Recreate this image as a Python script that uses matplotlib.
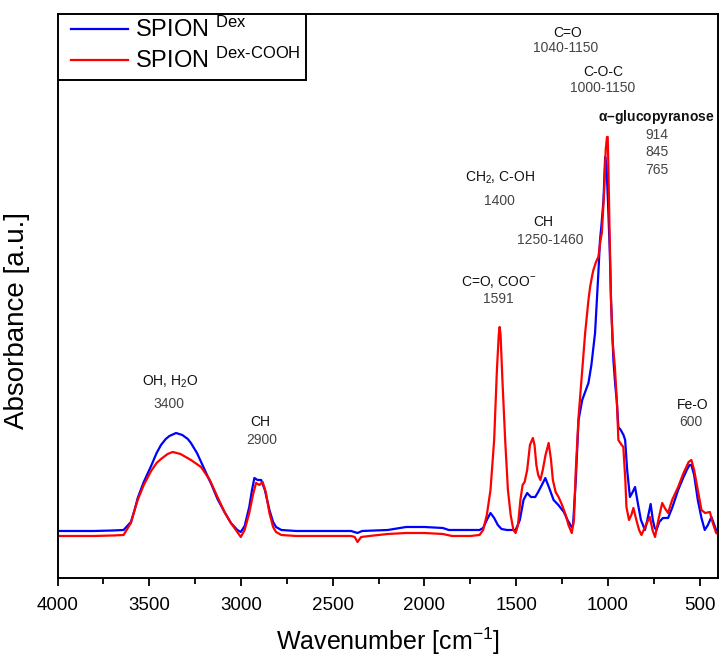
import numpy as np
import matplotlib
matplotlib.use("Agg")
import matplotlib.pyplot as plt
from matplotlib.ticker import MultipleLocator
from matplotlib.patches import Rectangle

plt.rcParams['font.family'] = ['Liberation Sans', 'DejaVu Sans']
plt.rcParams['mathtext.fontset'] = 'custom'
plt.rcParams['mathtext.rm'] = 'Liberation Sans'
plt.rcParams['mathtext.it'] = 'Liberation Sans:italic'
plt.rcParams['mathtext.bf'] = 'Liberation Sans:bold'

# SPION Dex  (wavenumber, absorbance a.u.)
dex_wn = [4000, 3800, 3700, 3640, 3600, 3580, 3563, 3530, 3490, 3460, 3436, 3410, 3390, 3354,
          3320, 3290, 3273, 3240, 3200, 3160, 3128, 3090, 3055, 3020, 3001, 2980, 2955, 2940,
          2927, 2910, 2890, 2870, 2845, 2825, 2809, 2780, 2700, 2600, 2500, 2400, 2365, 2340,
          2200, 2100, 2000, 1900, 1867, 1750, 1700, 1680, 1660, 1640, 1620, 1600, 1580, 1550,
          1520, 1503, 1480, 1460, 1440, 1420, 1396, 1380, 1360, 1341, 1320, 1296, 1270, 1240,
          1220, 1198, 1190, 1175, 1160, 1140, 1120, 1106, 1090, 1070, 1052, 1043, 1035, 1024,
          1015, 1008, 1000, 990, 983, 970, 960, 952, 943, 930, 915, 906, 895, 880, 865, 852,
          837, 820, 798, 785, 767, 755, 745, 735, 720, 700, 672, 650, 617, 590, 570, 555, 545,
          530, 510, 490, 472, 455, 436, 420, 410, 400]
dex_abs = [0.47, 0.47, 0.475, 0.48, 0.56, 0.68, 0.80, 0.96, 1.12, 1.25, 1.33, 1.39, 1.42, 1.45,
           1.43, 1.39, 1.35, 1.25, 1.09, 0.93, 0.79, 0.66, 0.55, 0.48, 0.46, 0.52, 0.71, 0.88,
           1.00, 0.98, 0.98, 0.88, 0.68, 0.56, 0.51, 0.48, 0.47, 0.47, 0.47, 0.47, 0.45, 0.47,
           0.48, 0.51, 0.51, 0.50, 0.48, 0.48, 0.48, 0.50, 0.58, 0.65, 0.60, 0.53, 0.49, 0.48,
           0.48, 0.48, 0.58, 0.78, 0.85, 0.81, 0.81, 0.86, 0.93, 1.00, 0.90, 0.78, 0.73, 0.66,
           0.58, 0.51, 0.53, 0.98, 1.58, 1.78, 1.88, 1.95, 2.13, 2.45, 3.05, 3.38, 3.53, 3.78,
           4.21, 4.13, 3.78, 3.28, 2.78, 2.18, 1.93, 1.78, 1.51, 1.48, 1.43, 1.38, 1.08, 0.81,
           0.86, 0.91, 0.75, 0.58, 0.48, 0.58, 0.74, 0.58, 0.50, 0.48, 0.56, 0.60, 0.60, 0.70,
           0.88, 1.00, 1.08, 1.13, 1.13, 1.03, 0.78, 0.60, 0.48, 0.53, 0.61, 0.53, 0.48, 0.46]

# SPION Dex-COOH
cooh_wn = [4000, 3800, 3700, 3640, 3600, 3580, 3563, 3530, 3490, 3460, 3436, 3400, 3372, 3330,
           3273, 3218, 3170, 3128, 3090, 3055, 3020, 3001, 2980, 2955, 2935, 2918, 2900, 2882,
           2865, 2845, 2825, 2809, 2780, 2700, 2500, 2400, 2380, 2365, 2345, 2300, 2200, 2100,
           2000, 1900, 1850, 1750, 1700, 1680, 1660, 1640, 1620, 1605, 1595, 1590, 1585, 1575,
           1560, 1545, 1530, 1515, 1503, 1490, 1477, 1465, 1454, 1440, 1425, 1409, 1400, 1390,
           1380, 1368, 1355, 1340, 1323, 1310, 1300, 1285, 1269, 1250, 1230, 1215, 1197, 1185,
           1175, 1160, 1140, 1124, 1106, 1097, 1085, 1079, 1065, 1052, 1040, 1033, 1020, 1012,
           1005, 1001, 997, 992, 983, 975, 962, 950, 943, 925, 916, 905, 899, 885, 872, 861,
           845, 830, 817, 800, 785, 771, 757, 743, 725, 704, 690, 672, 650, 617, 590, 560, 545,
           530, 510, 490, 470, 444, 430, 410, 400]
cooh_abs = [0.42, 0.42, 0.425, 0.43, 0.55, 0.68, 0.78, 0.93, 1.07, 1.15, 1.19, 1.24, 1.26, 1.24,
            1.18, 1.11, 0.98, 0.81, 0.66, 0.55, 0.46, 0.41, 0.48, 0.65, 0.83, 0.95, 0.93, 0.96,
            0.86, 0.65, 0.51, 0.46, 0.43, 0.42, 0.42, 0.42, 0.41, 0.36, 0.41, 0.42, 0.44, 0.45,
            0.45, 0.44, 0.42, 0.42, 0.43, 0.48, 0.63, 0.88, 1.38, 2.08, 2.43, 2.51, 2.43, 1.98,
            1.38, 0.88, 0.63, 0.48, 0.45, 0.53, 0.78, 0.93, 0.96, 1.08, 1.33, 1.40, 1.33, 1.13,
            1.03, 0.98, 1.08, 1.23, 1.35, 1.18, 0.98, 0.86, 0.81, 0.73, 0.63, 0.53, 0.45, 0.58,
            1.08, 1.61, 2.08, 2.45, 2.78, 2.91, 3.03, 3.08, 3.16, 3.21, 3.38, 3.45, 3.88, 4.28,
            4.41, 4.41, 4.08, 3.58, 2.78, 2.38, 2.11, 1.73, 1.38, 1.33, 1.31, 0.98, 0.71, 0.58,
            0.63, 0.70, 0.58, 0.48, 0.43, 0.50, 0.56, 0.61, 0.48, 0.41, 0.58, 0.75, 0.70, 0.65,
            0.78, 0.91, 1.04, 1.16, 1.18, 1.08, 0.88, 0.68, 0.65, 0.66, 0.56, 0.45, 0.44]

series_labels = [r'SPION $^{\mathrm{Dex}}$', r'SPION $^{\mathrm{Dex\text{-}COOH}}$']

# band annotations: title, value, x of title, x of value, y of title, y of value
band_titles = [r'C=O', r'C-O-C', r'CH$_2$, C-OH', r'CH', r'C=O, COO$^{-}$',
               r'OH, H$_2$O', r'CH', r'Fe-O']
band_values = ['1040-1150', '1000-1150', '1400', '1250-1460', '1591', '3400', '2900', '600']
band_tx = [1217, 1027, 1590, 1355, 1595, 3387, 2896, 537]
band_vx = [1228, 1027, 1590, 1315, 1598, 3392, 2885, 547]
band_ty = [5.45, 5.06, 4.00, 3.56, 2.96, 1.96, 1.56, 1.73]
band_vy = [5.30, 4.90, 3.77, 3.38, 2.79, 1.74, 1.38, 1.56]

gluco_title = r'$\mathbf{\alpha}$–glucopyranose'
gluco_values = ['914', '845', '765']

fig = plt.figure(figsize=(7.21, 6.62), dpi=100)
ax = fig.add_axes([0.0798, 0.1269, 0.9160, 0.8520])

l1, = ax.plot(dex_wn, dex_abs, color='#0000ff', lw=1.6)
l2, = ax.plot(cooh_wn, cooh_abs, color='#ff0000', lw=1.6)

ax.set_xlim(4000, 400)
ax.set_ylim(0, 5.64)
ax.xaxis.set_major_locator(MultipleLocator(500))
ax.xaxis.set_minor_locator(MultipleLocator(250))
ax.tick_params(axis='x', which='major', direction='out', length=6, width=1.3,
               labelsize=13.5, pad=8)
ax.tick_params(axis='x', which='minor', direction='out', length=4, width=1.3)
ax.set_yticks([])
for s in ax.spines.values():
    s.set_linewidth(1.4)

ax.set_xlabel(r'Wavenumber [cm$^{-1}$]', fontsize=18, labelpad=8)
ax.set_ylabel('Absorbance [a.u.]', fontsize=20)
ax.yaxis.set_label_coords(-0.042, 0.456)

for t, v, tx, vx, ty, vy in zip(band_titles, band_values, band_tx, band_vx, band_ty, band_vy):
    ax.text(tx, ty, t, ha='center', va='center', fontsize=10, color='#111111')
    ax.text(vx, vy, v, ha='center', va='center', fontsize=10, color='#444444')

ax.text(737, 4.61, gluco_title, ha='center', va='center', fontsize=10,
        fontweight='bold', color='#111111')
for i, v in enumerate(gluco_values):
    ax.text(735, 4.43 - i * 0.175, v, ha='center', va='center', fontsize=10, color='#444444')

# legend box
ax.add_patch(Rectangle((0, 0.883), 0.376, 0.117, transform=ax.transAxes,
                       facecolor='white', edgecolor='black', lw=1.4, zorder=4))
leg = ax.legend([l1, l2], series_labels, loc='upper left', bbox_to_anchor=(0.0204, 0.995),
                borderaxespad=0, borderpad=0, fontsize=17, frameon=False,
                handlelength=2.4, labelspacing=0.25, handletextpad=0.3)
leg.set_zorder(5)

fig.savefig('out.png', dpi=100)
